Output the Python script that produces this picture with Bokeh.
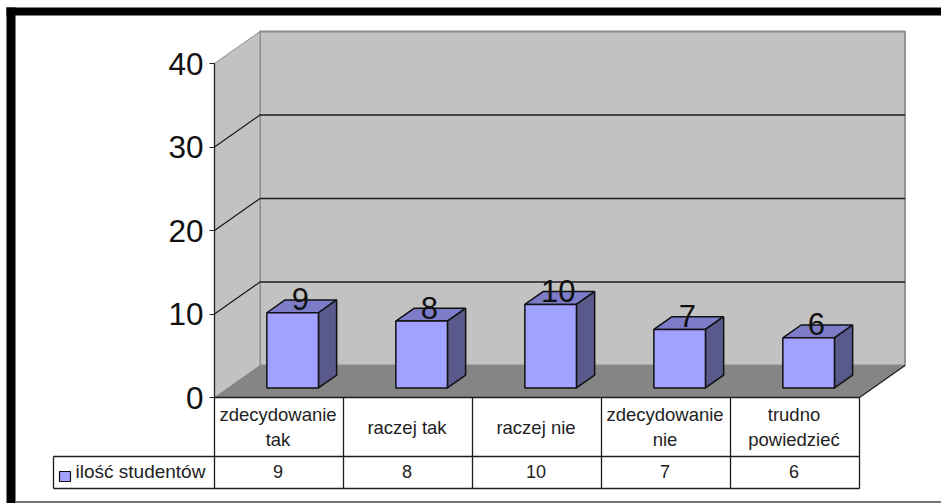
from bokeh.plotting import figure
from bokeh.embed import file_html
from bokeh.resources import INLINE
from bokeh.models import Range1d, FixedTicker, ColumnDataSource
from bokeh.core.properties import value

categories = ["zdecydowanie\ntak", "raczej tak", "raczej nie", "zdecydowanie\nnie", "trudno\npowiedzieć"]
counts = [9, 8, 10, 7, 6]
series_name = "ilość studentów"
y_ticks = [0, 10, 20, 30, 40]

W, H = 941, 503
X0, CW = 214.0, 129.0      # pixel of category 0, pixels per category
Y0, VH = 397.0, 8.35       # pixel of value 0, pixels per value unit
DX, DY = 45.5 / CW, 32 / VH  # depth of the 3D box in data units
FONT = "Liberation Sans"

def ux(px):
    return (px - X0) / CW

def uy(py):
    return (Y0 - py) / VH

def pr(c, v, d=0.0):
    return c + d * DX, v + d * DY

def poly(*pts):
    return [p[0] for p in pts], [p[1] for p in pts]

p = figure(width=W, height=H, output_backend="svg", toolbar_location=None,
           x_range=Range1d(ux(0), ux(W)), y_range=Range1d(uy(H), uy(0)),
           x_axis_location=None, min_border=0,
           background_fill_color="white", border_fill_color="white")
p.outline_line_color = None
p.grid.visible = False

n = len(categories)
top = max(y_ticks)
GREY, DARK = "#8c8c8c", "#1c1c1c"

# walls and floor
xs, ys = poly(pr(0, 0, 1), pr(n, 0, 1), pr(n, top, 1), pr(0, top, 1))
p.patch(xs, ys, fill_color="#c2c2c2", line_color=GREY, line_width=1.8)
xs, ys = poly(pr(0, 0, 0), pr(0, 0, 1), pr(0, top, 1), pr(0, top, 0))
p.patch(xs, ys, fill_color="#c2c2c2", line_color=GREY, line_width=1)
xs, ys = poly(pr(0, 0, 0), pr(n, 0, 0), pr(n, 0, 1), pr(0, 0, 1))
p.patch(xs, ys, fill_color="#858585", line_color=None)
xs, ys = poly(pr(n, 0, 0), pr(n, 0, 1))
p.line(xs, ys, line_color=DARK, line_width=1.2)

# gridlines
for t in y_ticks[1:-1]:
    xs, ys = poly(pr(0, t, 0), pr(0, t, 1), pr(n, t, 1))
    p.line(xs, ys, line_color=DARK, line_width=1.3)

# bars
for i, v in enumerate(counts):
    l, r = i + 0.3, i + 0.7
    d0, d1 = 0.3, 0.7
    xs, ys = poly(pr(l, v, d0), pr(r, v, d0), pr(r, v, d1), pr(l, v, d1))
    p.patch(xs, ys, fill_color="#7c7cc8", line_color="#111111", line_width=1.5)
    xs, ys = poly(pr(r, 0, d0), pr(r, 0, d1), pr(r, v, d1), pr(r, v, d0))
    p.patch(xs, ys, fill_color="#59598c", line_color="#111111", line_width=1.5)
    xs, ys = poly(pr(l, 0, d0), pr(r, 0, d0), pr(r, v, d0), pr(l, v, d0))
    p.patch(xs, ys, fill_color="#a1a1ff", line_color="#111111", line_width=1.5)

# data labels
lx = [pr(i + 0.5, v, 0.5)[0] for i, v in enumerate(counts)]
ly = [pr(i + 0.5, v, 0.5)[1] for i, v in enumerate(counts)]
p.text(lx, ly, text=[str(v) for v in counts], text_font=value(FONT), text_font_size="31px",
       text_color="#111111", text_align="center", text_baseline="middle", x_offset=-1.5, y_offset=-7)

# data table
row1, row2 = uy(456), uy(488)
p.multi_line([[0, n], [ux(53), n], [ux(53), n]],
             [[0, 0], [row1, row1], [row2, row2]], line_color=DARK, line_width=1.3)
vx = [[i, i] for i in range(n + 1)] + [[ux(53), ux(53)]]
vy = [[0, row2] for _ in range(n + 1)] + [[row1, row2]]
p.multi_line(vx, vy, line_color=DARK, line_width=1.3)

src = ColumnDataSource(dict(x=[i + 0.5 for i in range(n)], cat=categories,
                            val=[str(v) for v in counts]))
p.text("x", row1 / 2, text="cat", source=src, text_font=value(FONT), text_font_size="18.5px",
       text_color="#222222", text_align="center", text_baseline="middle", text_line_height=1.2,
       x_offset=-1)
p.text("x", (row1 + row2) / 2, text="val", source=src, text_font=value(FONT), text_font_size="18px",
       text_color="#222222", text_align="center", text_baseline="middle", x_offset=-1, y_offset=-1)

# legend key and series name
p.quad(left=[ux(59)], right=[ux(70)], top=[uy(471)], bottom=[uy(481)],
       fill_color="#a1a1ff", line_color="#111111", line_width=1.2)
p.text([ux(75)], [(row1 + row2) / 2], text=[series_name], text_font=value(FONT),
       text_font_size="19px", text_color="#222222", text_align="left", text_baseline="middle",
       y_offset=-1)

# slide frame
p.quad(left=[ux(6), ux(6)], right=[ux(15), ux(W)], top=[uy(7), uy(7)],
       bottom=[uy(H), uy(15)], fill_color="black", line_color=None)
p.line([ux(15), ux(W)], [uy(501.5), uy(501.5)], line_color="#444444", line_width=1.5)

# value axis
ax = p.yaxis[0]
ax.fixed_location = 0
ax.bounds = (0, top)
ax.ticker = FixedTicker(ticks=y_ticks)
ax.minor_tick_line_color = None
ax.major_tick_out = 5
ax.major_tick_in = 0
ax.major_tick_line_color = "#222222"
ax.axis_line_color = "#222222"
ax.axis_line_width = 1.3
ax.major_label_text_font = FONT
ax.major_label_text_font_size = "31.5px"
ax.major_label_text_color = "#111111"
ax.major_label_standoff = 6

open("out.html", "w").write(file_html(p, INLINE))
